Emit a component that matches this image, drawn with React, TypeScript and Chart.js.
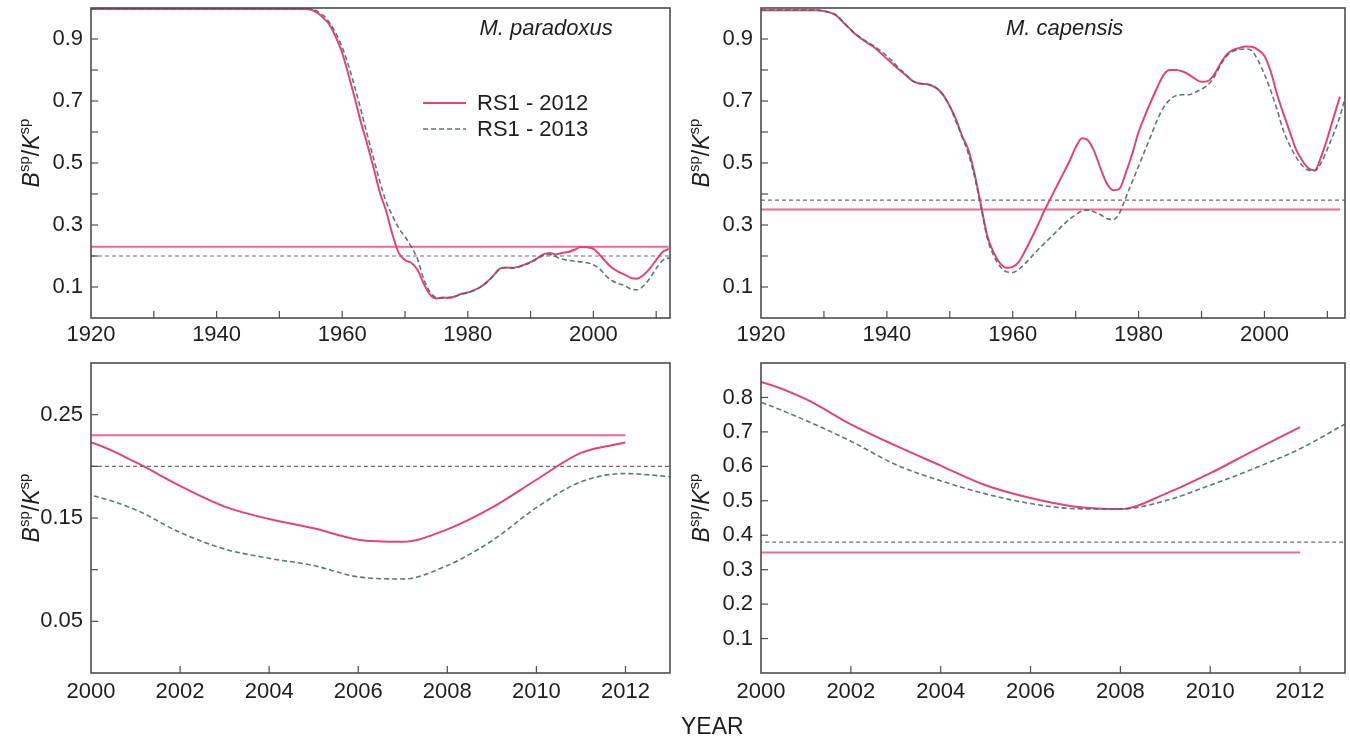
import React, { useEffect, useRef } from 'react';
import { Chart, registerables } from 'chart.js';

Chart.register(...registerables);

// ---------------- DATA ----------------
const yearsFull = [
  1920, 1921, 1922, 1923, 1924, 1925, 1926, 1927, 1928, 1929,
  1930, 1931, 1932, 1933, 1934, 1935, 1936, 1937, 1938, 1939,
  1940, 1941, 1942, 1943, 1944, 1945, 1946, 1947, 1948, 1949,
  1950, 1951, 1952, 1953, 1954, 1955, 1956, 1957, 1958, 1959,
  1960, 1961, 1962, 1963, 1964, 1965, 1966, 1967, 1968, 1969,
  1970, 1971, 1972, 1973, 1974, 1975, 1976, 1977, 1978, 1979,
  1980, 1981, 1982, 1983, 1984, 1985, 1986, 1987, 1988, 1989,
  1990, 1991, 1992, 1993, 1994, 1995, 1996, 1997, 1998, 1999,
  2000, 2001, 2002, 2003, 2004, 2005, 2006, 2007, 2008, 2009,
  2010, 2011, 2012, 2013,
];

// M. paradoxus, RS1 - 2012 (1920-2012)
const paradoxus2012 = [
  0.997, 0.997, 0.997, 0.997, 0.997, 0.997, 0.997, 0.997, 0.997, 0.997,
  0.997, 0.997, 0.997, 0.997, 0.997, 0.997, 0.997, 0.997, 0.997, 0.997,
  0.997, 0.997, 0.997, 0.997, 0.997, 0.997, 0.997, 0.997, 0.997, 0.997,
  0.997, 0.997, 0.997, 0.997, 0.997, 0.995, 0.985, 0.968, 0.945, 0.905,
  0.855, 0.785, 0.71, 0.63, 0.56, 0.485, 0.405, 0.345, 0.27, 0.21,
  0.187, 0.178, 0.155, 0.11, 0.075, 0.063, 0.066, 0.065, 0.07, 0.078,
  0.082, 0.09, 0.1, 0.115, 0.135, 0.158, 0.163, 0.162, 0.165, 0.172,
  0.18, 0.192, 0.205, 0.21, 0.205, 0.21, 0.213, 0.22, 0.229, 0.228,
  0.223, 0.204, 0.181, 0.161, 0.149, 0.14, 0.129, 0.127, 0.139, 0.16,
  0.187, 0.213, 0.223,
];

// M. paradoxus, RS1 - 2013 (1920-2013)
const paradoxus2013 = [
  0.997, 0.997, 0.997, 0.997, 0.997, 0.997, 0.997, 0.997, 0.997, 0.997,
  0.997, 0.997, 0.997, 0.997, 0.997, 0.997, 0.997, 0.997, 0.997, 0.997,
  0.997, 0.997, 0.997, 0.997, 0.997, 0.997, 0.997, 0.997, 0.997, 0.997,
  0.997, 0.997, 0.997, 0.997, 0.997, 0.997, 0.99, 0.976, 0.952, 0.918,
  0.873, 0.815, 0.745, 0.67, 0.59, 0.515, 0.44, 0.375, 0.33, 0.29,
  0.262, 0.23, 0.19, 0.125, 0.083, 0.066, 0.064, 0.066, 0.07, 0.077,
  0.081, 0.089, 0.099, 0.114, 0.134, 0.156, 0.162, 0.161, 0.164, 0.171,
  0.179, 0.19, 0.202, 0.205, 0.198, 0.19, 0.186, 0.183, 0.181, 0.178,
  0.172, 0.158, 0.136, 0.12, 0.111, 0.104, 0.093, 0.091, 0.104, 0.128,
  0.16, 0.185, 0.193, 0.19,
];

// M. capensis, RS1 - 2012 (1920-2012)
const capensis2012 = [
  0.993, 0.993, 0.993, 0.993, 0.993, 0.993, 0.993, 0.993, 0.993, 0.993,
  0.99, 0.985, 0.975, 0.955, 0.935, 0.915, 0.9, 0.886, 0.873, 0.855,
  0.836, 0.818, 0.8, 0.784, 0.766, 0.757, 0.755, 0.751, 0.74, 0.718,
  0.683, 0.64, 0.585, 0.54, 0.46, 0.36, 0.262, 0.21, 0.176, 0.162,
  0.165, 0.182, 0.218, 0.258, 0.3, 0.345, 0.385, 0.425, 0.465, 0.505,
  0.55, 0.58, 0.572, 0.535, 0.48, 0.432, 0.412, 0.418, 0.47, 0.53,
  0.6, 0.652, 0.7, 0.745, 0.785, 0.8, 0.8, 0.795, 0.785, 0.771,
  0.762, 0.764, 0.785, 0.82, 0.85, 0.865, 0.871, 0.876, 0.875, 0.865,
  0.845, 0.795, 0.722, 0.66, 0.602, 0.545, 0.508, 0.483, 0.476, 0.52,
  0.58, 0.648, 0.714,
];

// M. capensis, RS1 - 2013 (1920-2013)
const capensis2013 = [
  0.993, 0.993, 0.993, 0.993, 0.993, 0.993, 0.993, 0.993, 0.993, 0.993,
  0.99, 0.985, 0.977, 0.957, 0.936, 0.917, 0.902, 0.889, 0.877, 0.862,
  0.845, 0.826, 0.804, 0.786, 0.766, 0.757, 0.755, 0.751, 0.74, 0.718,
  0.683, 0.633, 0.582, 0.527, 0.45, 0.352, 0.255, 0.2, 0.166, 0.149,
  0.147, 0.158, 0.176, 0.198, 0.22, 0.24, 0.26, 0.28, 0.3, 0.318,
  0.333, 0.345, 0.348, 0.342, 0.333, 0.32, 0.318, 0.34, 0.39, 0.44,
  0.49, 0.54, 0.59, 0.64, 0.68, 0.705, 0.718, 0.72, 0.72, 0.728,
  0.738, 0.752, 0.777, 0.815, 0.845, 0.86, 0.866, 0.868, 0.862, 0.83,
  0.786, 0.733, 0.673, 0.605, 0.558, 0.52, 0.492, 0.477, 0.476, 0.5,
  0.545, 0.595, 0.651, 0.723,
];

// Reference levels
const refParadoxus = [0.23, 0.2]; // [RS1-2012, RS1-2013]
const refCapensis = [0.35, 0.38];
const refYears2012 = [1920, 2012];
const refYears2013 = [1920, 2013];

// Tick labels (in hundredths)
const yLabelsTop = [10, 30, 50, 70, 90];
const yLabelsParadoxusZoom = [5, 15, 25];
const yLabelsCapensisZoom = [10, 20, 30, 40, 50, 60, 70, 80];

const seriesLabels = ['RS1 - 2012', 'RS1 - 2013'];

// ---------------- STYLE ----------------
const FONT = '"Liberation Sans", Arial, Helvetica, sans-serif';
const PINK = '#e2447a';
const PINK_REF = '#ea6a93';
const GREEN = 'rgba(78,106,94,0.9)';
const GRAY_REF = '#6e6e6e';
const FRAME = '#4d4d4d';
const TEXT = '#1e1e1e';

const AX_W = 91;
const AX_H = 45;
const PAD_T = 24;
const PAD_R = 5;

type Panel = {
  key: string;
  left: number; top: number; w: number; h: number;
  xMin: number; xMax: number; xStep: number; xLabelEvery: number; xPad: number;
  yMin: number; yMax: number; yStep: number; yLabels: number[];
  title: string; titleFrac: number; legend: boolean;
  s2012: number[]; s2013: number[]; refs: number[];
};

const panels: Panel[] = [
  {
    key: 'tl', left: 91, top: 8, w: 579, h: 310,
    xMin: 1920, xMax: 2012.2, xStep: 10, xLabelEvery: 20, xPad: 4,
    yMin: 0, yMax: 1, yStep: 0.1, yLabels: yLabelsTop,
    title: 'M. paradoxus', titleFrac: 0.786, legend: true,
    s2012: paradoxus2012, s2013: paradoxus2013, refs: refParadoxus,
  },
  {
    key: 'tr', left: 761, top: 8, w: 584, h: 310,
    xMin: 1920, xMax: 2012.8, xStep: 10, xLabelEvery: 20, xPad: 4,
    yMin: 0, yMax: 1, yStep: 0.1, yLabels: yLabelsTop,
    title: 'M. capensis', titleFrac: 0.52, legend: false,
    s2012: capensis2012, s2013: capensis2013, refs: refCapensis,
  },
  {
    key: 'bl', left: 91, top: 363, w: 579, h: 310,
    xMin: 2000, xMax: 2013, xStep: 2, xLabelEvery: 2, xPad: 6,
    yMin: 0, yMax: 0.3, yStep: 0.05, yLabels: yLabelsParadoxusZoom,
    title: '', titleFrac: 0, legend: false,
    s2012: paradoxus2012, s2013: paradoxus2013, refs: refParadoxus,
  },
  {
    key: 'br', left: 761, top: 363, w: 584, h: 310,
    xMin: 2000, xMax: 2013, xStep: 2, xLabelEvery: 2, xPad: 6,
    yMin: 0, yMax: 0.9, yStep: 0.1, yLabels: yLabelsCapensisZoom,
    title: '', titleFrac: 0, legend: false,
    s2012: capensis2012, s2013: capensis2013, refs: refCapensis,
  },
];

function pts(xs: number[], ys: number[]) {
  return ys.map((y, i) => ({ x: xs[i], y }));
}

function PanelChart({ p }: { p: Panel }) {
  const ref = useRef<HTMLCanvasElement>(null);
  const cw = AX_W + p.w + PAD_R;
  const ch = PAD_T + p.h + AX_H;

  useEffect(() => {
    const cvs = ref.current;
    if (!cvs) return;

    const framePlugin = {
      id: 'frame_' + p.key,
      afterDatasetsDraw(chart: any) {
        const { ctx, chartArea: a, scales } = chart;
        ctx.save();
        ctx.strokeStyle = FRAME;
        ctx.lineWidth = 1.2;
        const xs = scales.x;
        xs.ticks.forEach((t: any) => {
          const px = xs.getPixelForValue(t.value);
          if (px <= a.left + 1 || px >= a.right - 1) return;
          ctx.beginPath();
          ctx.moveTo(px, a.bottom);
          ctx.lineTo(px, a.bottom - 7);
          ctx.stroke();
        });
        const ys = scales.y;
        ys.ticks.forEach((t: any) => {
          const py = ys.getPixelForValue(t.value);
          if (py >= a.bottom - 1 || py <= a.top + 1) return;
          ctx.beginPath();
          ctx.moveTo(a.left, py);
          ctx.lineTo(a.left + 7, py);
          ctx.stroke();
        });
        ctx.lineWidth = 1.6;
        ctx.strokeRect(a.left, a.top, a.right - a.left, a.bottom - a.top);
        ctx.restore();
      },
    };

    const textPlugin = {
      id: 'text_' + p.key,
      afterDraw(chart: any) {
        const { ctx, chartArea: a } = chart;
        ctx.save();
        ctx.fillStyle = TEXT;
        // y-axis title B^sp/K^sp
        const mainF = `italic 23px ${FONT}`;
        const supF = `15px ${FONT}`;
        const parts: [string, string, number][] = [
          ['B', mainF, 0], ['sp', supF, -10], ['/', `23px ${FONT}`, 0],
          ['K', mainF, 0], ['sp', supF, -10],
        ];
        let total = 0;
        parts.forEach(([s, f]) => { ctx.font = f; total += ctx.measureText(s).width; });
        ctx.translate(a.left - 52, (a.top + a.bottom) / 2 - 10);
        ctx.rotate(-Math.PI / 2);
        ctx.textBaseline = 'alphabetic';
        ctx.textAlign = 'left';
        let x = -total / 2;
        parts.forEach(([s, f, dy]) => {
          ctx.font = f;
          ctx.fillText(s, x, dy);
          x += ctx.measureText(s).width;
        });
        ctx.restore();

        if (p.title) {
          ctx.save();
          ctx.fillStyle = TEXT;
          ctx.font = `italic 22px ${FONT}`;
          ctx.textAlign = 'center';
          ctx.textBaseline = 'middle';
          ctx.fillText(p.title, a.left + p.titleFrac * (a.right - a.left), a.top + 21);
          ctx.restore();
        }

        if (p.legend) {
          const ds = chart.data.datasets;
          const rows = [ds[1], ds[0]];
          ctx.save();
          rows.forEach((d: any, i: number) => {
            const y = a.top + 95 + i * 26;
            const x0 = a.left + 332;
            ctx.strokeStyle = d.borderColor;
            ctx.lineWidth = d.borderWidth;
            ctx.setLineDash(d.borderDash || []);
            ctx.beginPath();
            ctx.moveTo(x0, y);
            ctx.lineTo(x0 + 43, y);
            ctx.stroke();
            ctx.setLineDash([]);
            ctx.fillStyle = TEXT;
            ctx.font = `22px ${FONT}`;
            ctx.textAlign = 'left';
            ctx.textBaseline = 'middle';
            ctx.fillText(d.label, x0 + 54, y + 1);
          });
          ctx.restore();
        }
      },
    };

    const chart = new Chart(cvs, {
      type: 'line',
      data: {
        datasets: [
          {
            label: seriesLabels[1],
            data: pts(yearsFull, p.s2013),
            borderColor: GREEN, borderWidth: 1.6, borderDash: [5, 3],
            pointRadius: 0, cubicInterpolationMode: 'monotone', fill: false,
          },
          {
            label: seriesLabels[0],
            data: pts(yearsFull, p.s2012),
            borderColor: PINK, borderWidth: 2,
            pointRadius: 0, cubicInterpolationMode: 'monotone', fill: false,
          },
          {
            label: 'ref2013',
            data: pts(refYears2013, [p.refs[1], p.refs[1]]),
            borderColor: GRAY_REF, borderWidth: 1.2, borderDash: [4, 3],
            pointRadius: 0, fill: false,
          },
          {
            label: 'ref2012',
            data: pts(refYears2012, [p.refs[0], p.refs[0]]),
            borderColor: PINK_REF, borderWidth: 2,
            pointRadius: 0, fill: false,
          },
        ],
      } as any,
      options: {
        animation: false,
        responsive: false,
        maintainAspectRatio: false,
        events: [],
        layout: { padding: { top: PAD_T, right: PAD_R, left: 0, bottom: 0 } },
        plugins: { legend: { display: false }, tooltip: { enabled: false }, title: { display: false } },
        scales: {
          x: {
            type: 'linear',
            min: p.xMin, max: p.xMax,
            afterFit: (s: any) => { s.height = AX_H; },
            grid: { display: false, drawTicks: false },
            border: { display: false },
            ticks: {
              stepSize: p.xStep, includeBounds: false, autoSkip: false, maxRotation: 0,
              padding: p.xPad, color: TEXT, font: { family: FONT, size: 22 },
              callback: (v: any) => {
                const r = Math.round(Number(v));
                return r % p.xLabelEvery === 0 ? String(r) : '';
              },
            },
          },
          y: {
            type: 'linear',
            min: p.yMin, max: p.yMax,
            afterFit: (s: any) => { s.width = AX_W; },
            grid: { display: false, drawTicks: false },
            border: { display: false },
            ticks: {
              stepSize: p.yStep, includeBounds: false, autoSkip: false,
              padding: 8, color: TEXT, font: { family: FONT, size: 22 },
              callback: (v: any) => {
                const h = Math.round(Number(v) * 100);
                return p.yLabels.includes(h) ? String(h / 100) : '';
              },
            },
          },
        },
      } as any,
      plugins: [framePlugin, textPlugin],
    });
    return () => chart.destroy();
  }, []);

  return (
    <canvas
      ref={ref}
      width={cw}
      height={ch}
      style={{ position: 'absolute', left: p.left - AX_W, top: p.top - PAD_T, width: cw, height: ch }}
    />
  );
}

export default function App() {
  return (
    <div style={{ position: 'fixed', left: 0, top: 0, width: 1350, height: 740, overflow: 'hidden', background: '#fff' }}>
      {panels.map((p) => (
        <PanelChart key={p.key} p={p} />
      ))}
      <div
        style={{
          position: 'absolute', left: 681, top: 715, fontFamily: FONT, fontSize: 23,
          lineHeight: '23px', color: TEXT,
        }}
      >
        YEAR
      </div>
    </div>
  );
}
